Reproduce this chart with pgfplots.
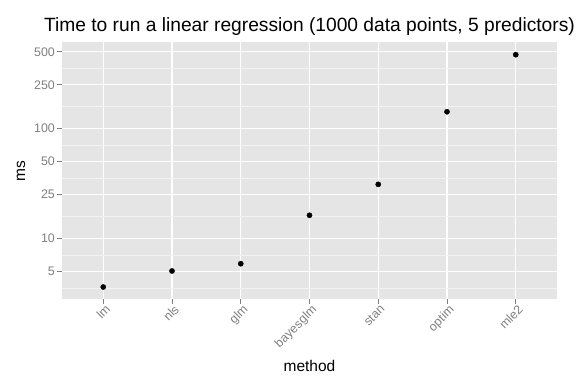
\documentclass[border=0pt]{standalone}
\usepackage{fontspec}
\setmainfont{Liberation Sans}
\usepackage{pgfplots}
\pgfplotsset{compat=1.18}
\definecolor{panelbg}{HTML}{E5E5E5}
\definecolor{minorgrid}{HTML}{F2F2F2}
\definecolor{ticklab}{HTML}{7F7F7F}
\begin{document}
\begin{tikzpicture}
\path[use as bounding box] (-62pt,-85pt) rectangle (514pt,299pt);
\begin{axis}[
  at={(0pt,0pt)}, anchor=south west,
  scale only axis,
  width=495pt, height=256.5pt,
  ymode=log,
  xmin=-0.6, xmax=6.6,
  ymin=2.8, ymax=607,
  axis line style={draw=none},
  axis background/.style={fill=panelbg},
  xtick={0,1,2,3,4,5,6},
  xticklabels={lm,nls,glm,bayesglm,stan,optim,mle2},
  ytick={5,10,25,50,100,250,500},
  yticklabels={5,10,25,50,100,250,500},
  minor ytick={3.536,7.071,15.81,35.36,70.71,158.1,353.6},
  xmajorgrids, ymajorgrids, yminorgrids,
  major grid style={white, line width=1.1pt},
  minor grid style={minorgrid, line width=0.55pt},
  tick align=outside,
  major tick length=5pt,
  minor tick length=0pt,
  tick style={ticklab, line width=0.8pt},
  xtick pos=bottom, ytick pos=left,
  /pgf/number format/assume math mode=true,
  ticklabel style={font=\fontsize{12.4}{14}\selectfont, text=ticklab},
  xticklabel style={rotate=45, anchor=north east, inner sep=1pt, xshift=2pt},
  yticklabel style={inner sep=2pt},
  title={Time to run a linear regression (1000 data points, 5 predictors)},
  title style={font=\fontsize{19.2}{21}\selectfont, at={(axis description cs:0.5,1.0195)}, anchor=base, inner sep=0pt},
  xlabel={method},
  xlabel style={font=\fontsize{15.5}{18}\selectfont, at={(axis description cs:0.5,-0.2807)}, anchor=base, inner sep=0pt},
  ylabel={ms},
  ylabel style={font=\fontsize{15.5}{18}\selectfont, at={(axis description cs:-0.0747,0.5)}, anchor=base, rotate=0, inner sep=0pt},
  clip=false,
]
\addplot[only marks, mark=*, mark size=2.6pt, black] coordinates {
  (0,3.60) (1,5.04) (2,5.87) (3,16.2) (4,31.0) (5,142) (6,470)
};
\end{axis}
\end{tikzpicture}
\end{document}
